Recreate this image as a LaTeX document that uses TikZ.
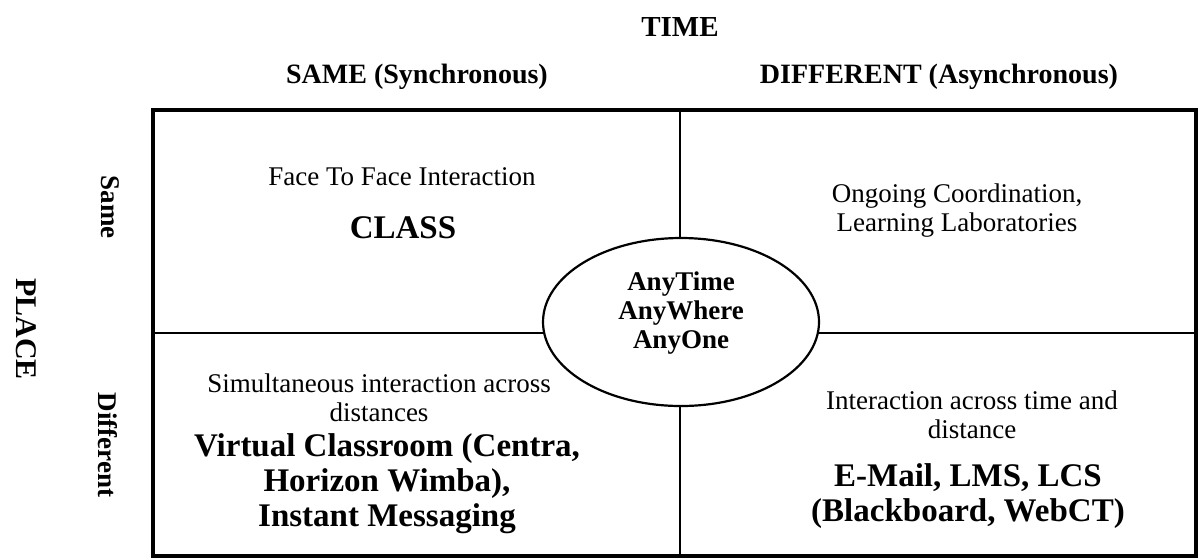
\documentclass[tikz,border=0pt]{standalone}
\usepackage{fontspec}
\setmainfont{Liberation Serif}
\usetikzlibrary{positioning,shapes.geometric}

\begin{document}
\begin{tikzpicture}[x=1pt,y=-1pt,
  head/.style={font=\fontsize{28}{30}\selectfont\bfseries,inner sep=0pt},
  side/.style={font=\fontsize{27}{29}\selectfont\bfseries,rotate=-90,inner sep=0pt},
  desc/.style={align=center,font=\fontsize{27}{29}\selectfont,inner sep=0pt},
  tool/.style={align=center,font=\fontsize{33}{35}\selectfont\bfseries,inner sep=0pt},
  grid/.style={line width=2.2pt}]
  \useasboundingbox (0,0) rectangle (1199,558);
  % frame of the four quadrants
  \coordinate (nw) at (153,110);
  \coordinate (se) at (1196,556);
  \coordinate (n) at (680,110);
  \coordinate (s) at (680,556);
  \coordinate (w) at (153,333);
  \coordinate (e) at (1196,333);
  \draw[line width=3.5pt] (nw) rectangle (se);
  \draw[grid] (n) -- (s);
  \draw[grid] (w) -- (e);
  % headings
  \node[head,font=\fontsize{29}{30}\selectfont\bfseries] (time) at (680,27) {TIME};
  \node[head] (sync) at (417,77) {SAME (Synchronous)};
  \node[head] (async) at (939,77) {DIFFERENT (Asynchronous)};
  \node[side,font=\fontsize{30}{30}\selectfont\bfseries] (place) at (26,329) {PLACE};
  \node[side] (same) at (110,207) {Same};
  \node[side] (diff) at (108,445) {Different};
  % quadrants
  \node[desc] (ftf) at (402,177) {Face To Face Interaction};
  \node[tool] (class) at (403,228) {CLASS};
  \node[desc] (ongo) at (957,211) {Ongoing Coordination,\\ Learning Laboratories};
  \node[desc] (simul) at (379,398) {Simultaneous interaction across\\ distances};
  \node[tool] (virt) at (387,484) {Virtual Classroom (Centra,\\ Horizon Wimba),\\ Instant Messaging};
  \node[desc] (inter) at (972,415) {Interaction across time and\\ distance};
  \node[tool] (mail) at (968,496) {E-Mail, LMS, LCS\\ (Blackboard, WebCT)};
  % centre
  \node[ellipse,draw,grid,fill=white,minimum width=276pt,minimum height=168pt,inner sep=0pt]
    (any) at (681,322) {};
  \node[align=center,inner sep=0pt,font=\fontsize{27}{29}\selectfont\bfseries] (anyt) at (681,313)
    {AnyTime\\ AnyWhere\\ AnyOne};
\end{tikzpicture}
\end{document}
